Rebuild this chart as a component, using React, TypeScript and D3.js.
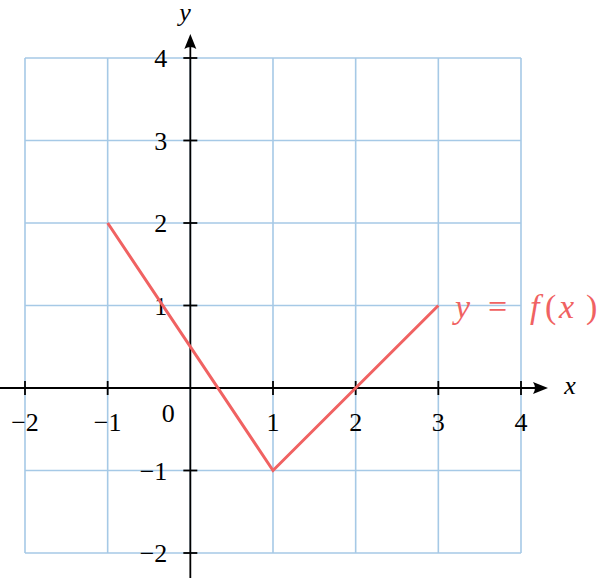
import React from "react";
import * as d3 from "d3";

const xTicks = [-2, -1, 1, 2, 3, 4];
const yTicks = [-2, -1, 1, 2, 3, 4];
const gridX = [-2, -1, 0, 1, 2, 3, 4];
const gridY = [-2, -1, 0, 1, 2, 3, 4];
const lineX = [-1, 1, 3];
const lineY = [2, -1, 1];

export default function App() {
  const W = 608, H = 579;
  const x = d3.scaleLinear().domain([-2, 4]).range([25, 521]);
  const y = d3.scaleLinear().domain([-2, 4]).range([553, 58]);
  const pts = lineX.map((v, i) => [x(v), y(lineY[i])] as [number, number]);
  const line = d3.line()(pts) || "";
  const font = "'Liberation Serif', 'DejaVu Serif', serif";
  const grid = "#a6c9e6";
  const red = "#f06262";
  const x0 = x(0), y0 = y(0);
  const fmt = (v: number) => (v < 0 ? "\u2212" + Math.abs(v) : String(v));
  const ly = y(1) + 12;
  const lab = { fontFamily: font, fontSize: "34px", fill: red } as React.CSSProperties;
  return (
    <svg width={W} height={H} style={{ position: "absolute", left: 0, top: 0 }} fontFamily={font}>
      <rect width={W} height={H} fill="white" />
      {gridX.map((v) => (
        <line key={"gx" + v} x1={x(v)} x2={x(v)} y1={y(-2)} y2={y(4)} stroke={grid} strokeWidth={1.6} />
      ))}
      {gridY.map((v) => (
        <line key={"gy" + v} y1={y(v)} y2={y(v)} x1={x(-2)} x2={x(4)} stroke={grid} strokeWidth={1.6} />
      ))}
      <line x1={0} x2={540} y1={y0} y2={y0} stroke="black" strokeWidth={1.8} />
      <path d={`M548,${y0} L533,${y0 - 6} Q537,${y0} 533,${y0 + 6} Z`} fill="black" />
      <line x1={x0} x2={x0} y1={578} y2={42} stroke="black" strokeWidth={1.8} />
      <path d={`M${x0},34 L${x0 - 6},49 Q${x0},45 ${x0 + 6},49 Z`} fill="black" />
      {xTicks.map((v) => (
        <g key={"xt" + v}>
          <line x1={x(v)} x2={x(v)} y1={y0 - 7} y2={y0 + 7} stroke="black" strokeWidth={1.8} />
          <text x={x(v)} y={y0 + 43} textAnchor="middle" fontSize={26}>{fmt(v)}</text>
        </g>
      ))}
      {yTicks.map((v) => (
        <g key={"yt" + v}>
          <line y1={y(v)} y2={y(v)} x1={x0 - 7} x2={x0 + 7} stroke="black" strokeWidth={1.8} />
          <text x={x0 - 23} y={y(v) + 9} textAnchor="end" fontSize={26}>{fmt(v)}</text>
        </g>
      ))}
      <text x={x0 - 22} y={y0 + 34} textAnchor="middle" fontSize={26}>0</text>
      <text x={570} y={y0 + 6} textAnchor="middle" fontSize={26} fontStyle="italic">x</text>
      <text x={185} y={21} textAnchor="middle" fontSize={26} fontStyle="italic">y</text>
      <path d={line} fill="none" stroke={red} strokeWidth={3} strokeLinejoin="miter" />
      <text x={455} y={ly} style={{ ...lab, fontStyle: "italic" }}>y</text>
      <text x={488} y={ly} style={lab}>=</text>
      <text x={530} y={ly} style={{ ...lab, fontStyle: "italic" }}>f</text>
      <text x={545} y={ly} style={lab}>(</text>
      <text x={559} y={ly} style={{ ...lab, fontStyle: "italic" }}>x</text>
      <text x={586} y={ly} style={lab}>)</text>
    </svg>
  );
}
